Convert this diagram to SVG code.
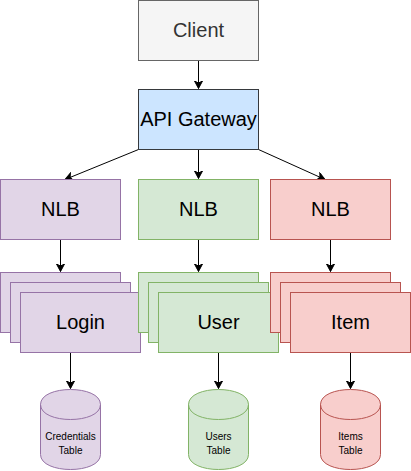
<svg xmlns="http://www.w3.org/2000/svg" width="411" height="471" viewBox="0 0 411 471">
<style>
text{font-family:"Liberation Sans",Arial,Helvetica,sans-serif;text-anchor:middle;fill:#000}
.l{font-size:20px}.s{font-size:10px}
.b{stroke:#36393d;fill:#cce5ff;stroke-width:1}
.g0{stroke:#666;fill:#f5f5f5;stroke-width:1}
.p{stroke:#9673a6;fill:#e1d5e7;stroke-width:1}
.g{stroke:#82b366;fill:#d5e8d4;stroke-width:1}
.r{stroke:#b85450;fill:#f8cecc;stroke-width:1}
.c{stroke:#000;fill:none;stroke-width:1;marker-end:url(#a)}
</style>
<defs>
<marker id="a" markerUnits="userSpaceOnUse" viewBox="0 0 9 9" refX="8" refY="4.5" markerWidth="9" markerHeight="9" orient="auto"><path d="M0.5 0.5L8 4.5L0.5 8.5L2.5 4.5Z" fill="#000" stroke="#000" stroke-width="1"/></marker>
<g id="cyl"><path d="M0 15C0 -5 60 -5 60 15L60 65C60 85 0 85 0 65Z"/><path fill="none" d="M0 15C0 35 60 35 60 15"/></g>
</defs>
<g id="connectors">
<path class="c" d="M198.5 60.5V88.5"/>
<path class="c" d="M198.5 149.5V178.5"/>
<path class="c" d="M138.5 149.5L65 179.5"/>
<path class="c" d="M258.5 149.5L325 179.5"/>
<path class="c" d="M60.5 239.5V271.5"/>
<path class="c" d="M198.5 239.5V271.5"/>
<path class="c" d="M330.5 239.5V271.5"/>
<path class="c" d="M70.5 352.5V388.5"/>
<path class="c" d="M218.5 352.5V388.5"/>
<path class="c" d="M350.5 352.5V388.5"/>
</g>
<g id="client"><rect class="g0" x="138.5" y="0.5" width="120" height="60"/><text class="l" x="198.5" y="37" style="fill:#333">Client</text></g>
<g id="gateway"><rect class="b" x="138.5" y="89.5" width="120" height="60"/><text class="l" x="198.5" y="126">API Gateway</text></g>
<g id="nlb-login"><rect class="p" x="0.5" y="179.5" width="120" height="60"/><text class="l" x="60.5" y="216">NLB</text></g>
<g id="nlb-user"><rect class="g" x="138.5" y="179.5" width="120" height="60"/><text class="l" x="198.5" y="216">NLB</text></g>
<g id="nlb-item"><rect class="r" x="270.5" y="179.5" width="120" height="60"/><text class="l" x="330.5" y="216">NLB</text></g>
<g id="login"><rect class="p" x="0.5" y="272.5" width="120" height="60"/><rect class="p" x="10.5" y="282.5" width="120" height="60"/><rect class="p" x="20.5" y="292.5" width="120" height="60"/><text class="l" x="80.5" y="329">Login</text></g>
<g id="user"><rect class="g" x="138.5" y="272.5" width="120" height="60"/><rect class="g" x="148.5" y="282.5" width="120" height="60"/><rect class="g" x="158.5" y="292.5" width="120" height="60"/><text class="l" x="218.5" y="329">User</text></g>
<g id="item"><rect class="r" x="270.5" y="272.5" width="120" height="60"/><rect class="r" x="280.5" y="282.5" width="120" height="60"/><rect class="r" x="290.5" y="292.5" width="120" height="60"/><text class="l" x="350.5" y="329">Item</text></g>
<g id="credentials-table"><use href="#cyl" class="p" x="40.5" y="389.5"/><text class="s" x="70.5" y="440">Credentials</text><text class="s" x="70.5" y="454">Table</text></g>
<g id="users-table"><use href="#cyl" class="g" x="188.5" y="389.5"/><text class="s" x="218.5" y="440">Users</text><text class="s" x="218.5" y="454">Table</text></g>
<g id="items-table"><use href="#cyl" class="r" x="320.5" y="389.5"/><text class="s" x="350.5" y="440">Items</text><text class="s" x="350.5" y="454">Table</text></g>
</svg>
